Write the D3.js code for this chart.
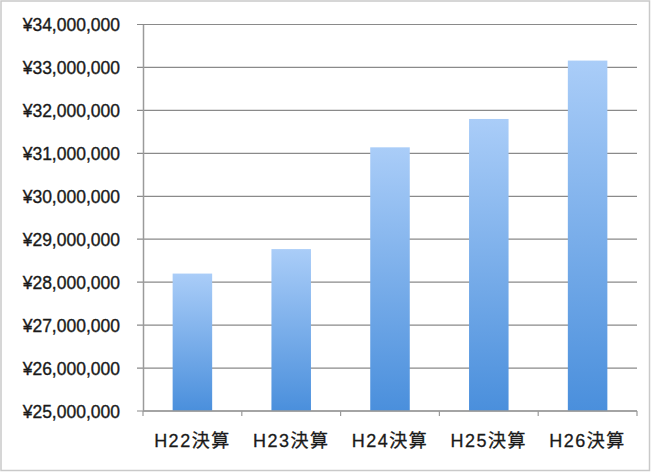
<!DOCTYPE html>
<html><head><meta charset="utf-8">
<script src="https://cdn.jsdelivr.net/npm/d3@7"></script>
<style>
html,body{margin:0;padding:0;background:#fff;}
svg{display:block;}
text{font-family:"Liberation Sans","Noto Sans CJK JP",sans-serif;}
</style></head>
<body><svg id="c" width="651" height="472"></svg>
<script>
const categories = ["H22決算","H23決算","H24決算","H25決算","H26決算"];
const values = [28200000, 28770000, 31140000, 31800000, 33160000];
const yTicks = [25000000,26000000,27000000,28000000,29000000,30000000,31000000,32000000,33000000,34000000];
const yTickLabels = ["¥25,000,000","¥26,000,000","¥27,000,000","¥28,000,000","¥29,000,000","¥30,000,000","¥31,000,000","¥32,000,000","¥33,000,000","¥34,000,000"];

const svg = d3.select("#c");
const W = 651, H = 472;
const m = {left:143, right:14, top:24.5, bottom:61};

svg.append("rect").attr("x",1).attr("y",1).attr("width",W-2.5).attr("height",H-2.5)
  .attr("fill","#fff").attr("stroke","#c9c9c9").attr("stroke-width",1.5);

const defs = svg.append("defs");
const grad = defs.append("linearGradient").attr("id","bg").attr("x1",0).attr("y1",0).attr("x2",0).attr("y2",1);
grad.append("stop").attr("offset","0%").attr("stop-color","#aacdf8");
grad.append("stop").attr("offset","100%").attr("stop-color","#4a8fdc");

const x = d3.scaleBand().domain(categories).range([m.left, W-m.right]).paddingInner(0.6).paddingOuter(0.3);
const y = d3.scaleLinear().domain([yTicks[0], yTicks[yTicks.length-1]]).range([H-m.bottom, m.top]);

// gridlines
svg.append("g").selectAll("line").data(yTicks).join("line")
  .attr("x1", m.left-6).attr("x2", W-m.right)
  .attr("y1", d=>y(d)).attr("y2", d=>y(d))
  .attr("stroke","#8a8a8a").attr("stroke-width",1.2);

// y labels
const yAxis = d3.axisLeft(y).tickValues(yTicks).tickFormat((d,i)=>yTickLabels[i]).tickSize(0).tickPadding(23);
const gy = svg.append("g").attr("transform",`translate(${m.left},0)`).call(yAxis);
gy.select(".domain").attr("stroke","#9a9a9a").attr("stroke-width",1.5);
gy.selectAll("text").attr("font-size",17.5).attr("fill","#1a1a1a").attr("dy","0.36em")
  .attr("stroke","#1a1a1a").attr("stroke-width",0.35)
  .attr("font-family",'"Liberation Sans","Noto Sans CJK JP",sans-serif');

// bars
svg.append("g").selectAll("rect").data(values).join("rect")
  .attr("x",(d,i)=>x(categories[i]))
  .attr("width",x.bandwidth())
  .attr("y",d=>y(d))
  .attr("height",d=>y(yTicks[0])-y(d))
  .attr("fill","url(#bg)");

// x axis
const base = y(yTicks[0]);
svg.append("line").attr("x1",m.left).attr("x2",W-m.right).attr("y1",base).attr("y2",base)
  .attr("stroke","#9a9a9a").attr("stroke-width",1.5);
const bounds = categories.map(c=>x(c)-x.step()*x.paddingInner()/2).concat([W-m.right]);
svg.append("g").selectAll("line").data(bounds).join("line")
  .attr("x1",d=>d).attr("x2",d=>d).attr("y1",base).attr("y2",base+5)
  .attr("stroke","#9a9a9a").attr("stroke-width",1.2);

svg.append("g").selectAll("text").data(categories).join("text")
  .attr("x",d=>x(d)+x.bandwidth()/2).attr("y",447)
  .attr("text-anchor","middle").attr("font-size",18).attr("letter-spacing","1.5px")
  .attr("fill","#1a1a1a").attr("stroke","#1a1a1a").attr("stroke-width",0.3).text(d=>d);
</script></body></html>
